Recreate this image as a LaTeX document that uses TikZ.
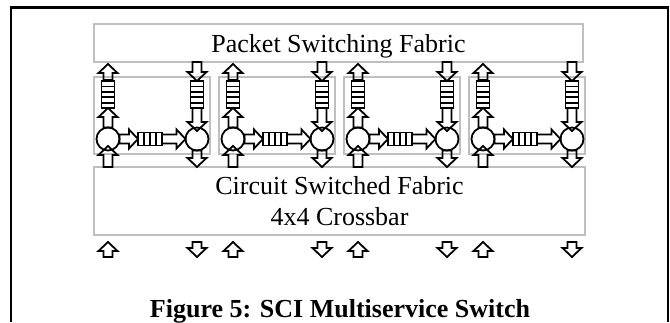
\documentclass[tikz,border=0pt]{standalone}
\usepackage{fontspec}
\setmainfont{Liberation Serif}
\usetikzlibrary{positioning}

\tikzset{
    pics/blockarrow/.style={code={
        \draw[arrowline] (0,-4.5) -- (#1-9,-4.5) -- (#1-9,-9.5) -- (#1,0) -- (#1-9,9.5) -- (#1-9,4.5) -- (0,4.5) -- cycle;
    }},
    pics/vqueue/.style={code={
        \draw[arrowline] (-6.5,0) rectangle (6.5,27);
        \foreach \k in {1,...,4} \draw[arrowline] (-6.5,5.4*\k) -- (6.5,5.4*\k);
    }},
    pics/hqueue/.style={code={
        \draw[arrowline] (0,-6.5) rectangle (24,6.5);
        \foreach \k in {1,...,3} \draw[arrowline] (6*\k,-6.5) -- (6*\k,6.5);
    }}
}

\begin{document}
\begin{tikzpicture}[
    x=1pt, y=-1pt,
    every node/.style={align=center, font=\fontsize{26}{31}\selectfont},
    fabric/.style={rectangle, draw=black!25, line width=1.6, minimum width=489, minimum height=38, inner sep=0},
    cell/.style={rectangle, draw=black!25, line width=1.6, minimum width=116, minimum height=77, inner sep=0},
    switch/.style={circle, draw, line width=1.8, minimum size=23, inner sep=0},
    arrowline/.style={line width=1.8, line join=miter}
]
\useasboundingbox (0,0) rectangle (670,322);

% Frame
\draw[line width=3] (10,7) -- (669,7);
\draw[line width=2] (11,7) -- (11,322);
\draw[line width=2] (668,7) -- (668,322);

% Fabrics
\node[fabric, text depth=0] (packet) at (338.5,43) {Packet Switching Fabric};
\node[fabric, minimum width=491, minimum height=68, text depth=0] (circuit) at (339.5,201) {Circuit Switched Fabric\\4x4 Crossbar};

% Cells
\foreach \i in {0,...,3}{
    \pgfmathsetmacro\xl{94+125*\i}
    \pgfmathsetmacro\xa{\xl+14}
    \pgfmathsetmacro\xb{\xl+103}
    \node[cell] (cell\i) at (\xl+58,115.5) {};
    \node[switch] (in\i) at (\xa,139) {};
    \node[switch] (out\i) at (\xb,139) {};
    % to and from the packet fabric
    \pic[rotate=90] at (\xa,80) {blockarrow=16};
    \pic at (\xa,81) {vqueue};
    \pic[rotate=90] at (\xa,127.5) {blockarrow=19.5};
    \pic[rotate=-90] at (\xb,62) {blockarrow=19};
    \pic at (\xb,81) {vqueue};
    \pic[rotate=-90] at (\xb,108) {blockarrow=23};
    % across the cell
    \pic at (\xa+11.5,139) {blockarrow=18.5};
    \pic at (\xl+44,139) {hqueue};
    \pic at (\xl+68,139) {blockarrow=23.5};
    % to and from the circuit fabric
    \pic[rotate=90] at (\xa,167) {blockarrow=21};
    \pic[rotate=-90] at (\xb,150.5) {blockarrow=16.5};
    % ports
    \pic[rotate=90] at (\xa,257) {blockarrow=15};
    \pic[rotate=-90] at (\xb,242) {blockarrow=15};
}

% Caption
\node[font=\bfseries\fontsize{26}{31}\selectfont, anchor=base] (caption) at (340,317) {Figure 5: SCI Multiservice Switch};

\end{tikzpicture}
\end{document}
